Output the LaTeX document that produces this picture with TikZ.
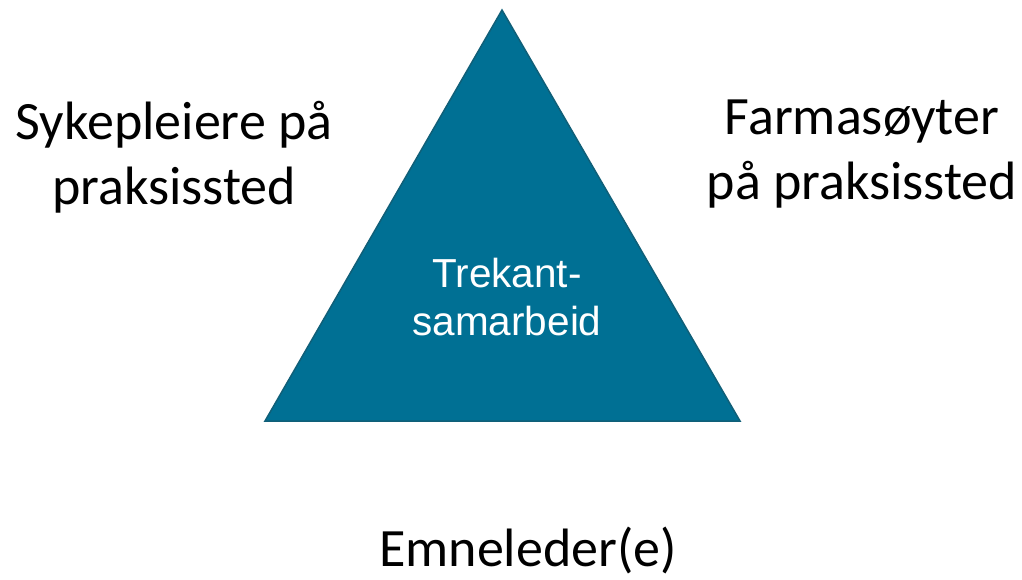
\documentclass[tikz,border=0pt]{standalone}
\usepackage{fontspec}
\setmainfont{Carlito}
\newfontfamily\arialfont{Liberation Sans}
\usetikzlibrary{positioning}
\definecolor{trifill}{HTML}{007094}
\definecolor{triline}{HTML}{105F78}

\begin{document}
\begin{tikzpicture}
        [x=1pt,y=-1pt,
        role/.style={align=center,font=\fontsize{54}{65}\selectfont,inner sep=0pt},
        inner/.style={align=center,text=white,font=\arialfont\fontsize{40.5}{48}\selectfont,inner sep=0pt}]

        \useasboundingbox (0,0) rectangle (1022,579);

        % triangle
        \coordinate (top) at (502,10);
        \coordinate (bl) at (265,421);
        \coordinate (br) at (740,421);
        \draw[triline, fill=trifill, line width=1.5pt] (top) -- (bl) -- (br) -- cycle;
        \node[inner] (samarbeid) at (507,297) {Trekant-\\samarbeid};

        % the three parties
        \node[role] (sykepleiere) at (174,157) {Sykepleiere på\\praksissted};
        \node[role] (farmasoyter) at (862,154) {Farmasøyter\\på praksissted};
        \node[role] (emneleder) at (528,550) {Emneleder(e)};

    \end{tikzpicture}
\end{document}
